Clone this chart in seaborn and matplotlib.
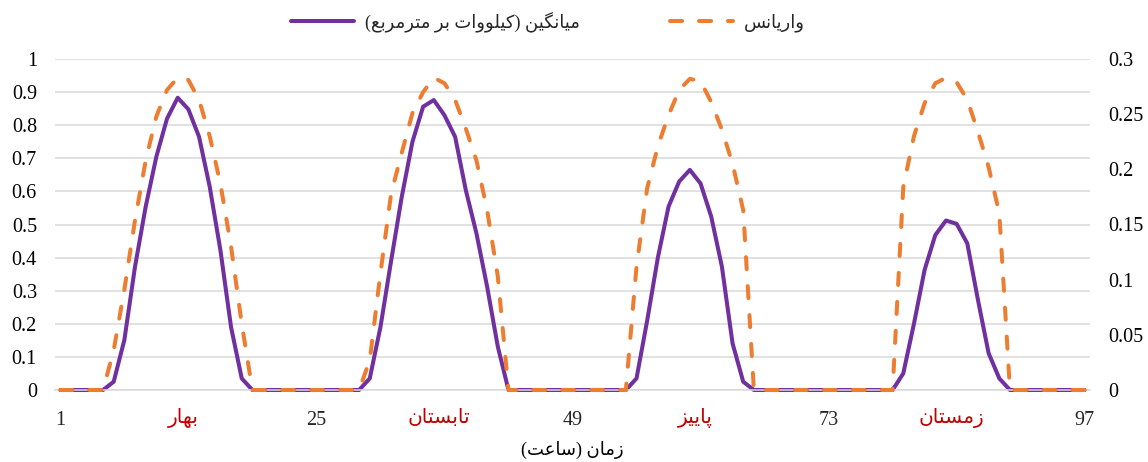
import numpy as np
import pandas as pd
import matplotlib
matplotlib.use("Agg")
import matplotlib.pyplot as plt
import matplotlib.transforms as mtransforms
import seaborn as sns

# ---------------- data ----------------
hours = list(range(1, 98))
mean_kw = [0, 0, 0, 0, 0,
           0.025, 0.151, 0.373, 0.554, 0.705, 0.82, 0.883, 0.848, 0.765, 0.614, 0.423, 0.19, 0.035,
           0, 0, 0, 0, 0, 0, 0, 0, 0, 0, 0,
           0.035, 0.19, 0.39, 0.584, 0.75, 0.856, 0.876, 0.83, 0.765, 0.604, 0.473, 0.312, 0.131,
           0, 0, 0, 0, 0, 0, 0, 0, 0, 0, 0, 0,
           0.035, 0.21, 0.40, 0.554, 0.63, 0.665, 0.624, 0.524, 0.373, 0.141, 0.025,
           0, 0, 0, 0, 0, 0, 0, 0, 0, 0, 0, 0, 0, 0,
           0.05, 0.2, 0.363, 0.468, 0.512, 0.502, 0.443, 0.272, 0.111, 0.035,
           0, 0, 0, 0, 0, 0, 0, 0]
variance = [0, 0, 0, 0, 0,
            0.036, 0.091, 0.154, 0.208, 0.248, 0.272, 0.283, 0.281, 0.263, 0.230, 0.187, 0.130, 0.060,
            0, 0, 0, 0, 0, 0, 0, 0, 0, 0, 0,
            0.027, 0.106, 0.178, 0.215, 0.251, 0.270, 0.283, 0.278, 0.263, 0.237, 0.208, 0.163, 0.103,
            0, 0, 0, 0, 0, 0, 0, 0, 0, 0, 0, 0,
            0.112, 0.183, 0.221, 0.249, 0.272, 0.282, 0.280, 0.261, 0.236, 0.205, 0.163,
            0, 0, 0, 0, 0, 0, 0, 0, 0, 0, 0, 0, 0, 0,
            0.184, 0.23, 0.26, 0.278, 0.283, 0.279, 0.263, 0.234, 0.202, 0.16,
            0, 0, 0, 0, 0, 0, 0, 0]
x_tick_values = [1, 25, 49, 73, 97]
left_ticks = [0, 0.1, 0.2, 0.3, 0.4, 0.5, 0.6, 0.7, 0.8, 0.9, 1]
left_labels = ["0", "0.1", "0.2", "0.3", "0.4", "0.5", "0.6", "0.7", "0.8", "0.9", "1"]
right_ticks = [0, 0.05, 0.1, 0.15, 0.2, 0.25, 0.3]
right_labels = ["0", "0.05", "0.1", "0.15", "0.2", "0.25", "0.3"]
seasons = ["بهار", "تابستان", "پاییز", "زمستان"]
season_pos = [12.5, 36.5, 60.5, 84.5]
mean_label = "میانگین (کیلووات بر مترمربع)"
var_label = "واریانس"
x_title = "زمان (ساعت)"

# ------------- simple Persian shaping (matplotlib has no shaping) -------------
FORMS = {
    'ا': ('\uFE8D', '\uFE8E', None, None),
    'ب': ('\uFE8F', '\uFE90', '\uFE91', '\uFE92'),
    'ت': ('\uFE95', '\uFE96', '\uFE97', '\uFE98'),
    'ر': ('\uFEAD', '\uFEAE', None, None),
    'ز': ('\uFEAF', '\uFEB0', None, None),
    'س': ('\uFEB1', '\uFEB2', '\uFEB3', '\uFEB4'),
    'ع': ('\uFEC9', '\uFECA', '\uFECB', '\uFECC'),
    'ل': ('\uFEDD', '\uFEDE', '\uFEDF', '\uFEE0'),
    'م': ('\uFEE1', '\uFEE2', '\uFEE3', '\uFEE4'),
    'ن': ('\uFEE5', '\uFEE6', '\uFEE7', '\uFEE8'),
    'ه': ('\uFEE9', '\uFEEA', '\uFEEB', '\uFEEC'),
    'و': ('\uFEED', '\uFEEE', None, None),
    '\u067E': ('\uFB56', '\uFB57', '\uFB58', '\uFB59'),
    '\u06A9': ('\uFB8E', '\uFB8F', '\uFB90', '\uFB91'),
    '\u0643': ('\uFB8E', '\uFB8F', '\uFB90', '\uFB91'),
    '\u06AF': ('\uFB92', '\uFB93', '\uFB94', '\uFB95'),
    '\u06CC': ('\uFBFC', '\uFBFD', '\uFBFE', '\uFBFF'),
    '\u064A': ('\uFBFC', '\uFBFD', '\uFBFE', '\uFBFF'),
}


def dual(c):
    return c in FORMS and FORMS[c][2] is not None


def shape(text):
    out = []
    for i, c in enumerate(text):
        if c not in FORMS:
            out.append(c)
            continue
        prev = text[i - 1] if i > 0 else ''
        nxt = text[i + 1] if i + 1 < len(text) else ''
        jp = dual(prev)
        jn = dual(c) and nxt in FORMS
        iso, fin, ini, med = FORMS[c]
        if jp and jn:
            out.append(med)
        elif jp:
            out.append(fin)
        elif jn:
            out.append(ini)
        else:
            out.append(iso)
    s = ''.join(out)[::-1]
    return s.translate(str.maketrans('()', ')('))


# ---------------- plot ----------------
sns.set_theme(style="white")
plt.rcParams['font.family'] = ['Liberation Serif', 'DejaVu Sans']

PURPLE = "#7030A0"
ORANGE = "#ED7D31"
GRID = "#D9D9D9"
RED = "#C00000"

df = pd.DataFrame({"hour": hours, "mean": mean_kw, "var": variance})

fig = plt.figure(figsize=(11.48, 4.62), dpi=100)
ax = fig.add_axes([55 / 1148, 72 / 462, 1035 / 1148, 331 / 462])
ax2 = ax.twinx()

sns.lineplot(data=df, x="hour", y="mean", ax=ax, color=PURPLE, linewidth=2.9,
             label=shape(mean_label), legend=False, clip_on=False)
sns.lineplot(data=df, x="hour", y="var", ax=ax2, color=ORANGE, linewidth=2.9,
             linestyle=(0, (3.0, 4.2)), dash_capstyle='round',
             label=shape(var_label), legend=False, clip_on=False)

ax.set_xlim(0.5, 97.5)
ax.set_ylim(0, 1)
ax2.set_ylim(0, 0.3)

ax.set_yticks(left_ticks)
ax.set_yticklabels(left_labels)
ax2.set_yticks(right_ticks)
ax2.set_yticklabels(right_labels)
ax.set_xticks(x_tick_values)
ax.set_xticklabels([str(v) for v in x_tick_values])
ax.set_xticks([0.5, 24.5, 48.5, 72.5, 96.5], minor=True)

ax.grid(axis='y', color=GRID, linewidth=1.1)
ax.set_axisbelow(True)
ax2.grid(False)

for a in (ax, ax2):
    for s in a.spines.values():
        s.set_visible(False)
ax.spines['bottom'].set_visible(True)
ax.spines['bottom'].set_color(GRID)
ax.spines['bottom'].set_linewidth(1.1)

ax.tick_params(axis='y', length=0, pad=13, labelsize=14.5, colors='black')
ax2.tick_params(axis='y', length=0, pad=13, labelsize=14.5, colors='black')
ax.tick_params(axis='x', which='major', length=0, pad=15, labelsize=14.5)
ax.tick_params(axis='x', which='minor', length=5, direction='in', color=GRID, width=1.1)
ax.set_xlabel("")
ax.set_ylabel("")
ax2.set_ylabel("")

trans = mtransforms.blended_transform_factory(ax.transData, ax.transAxes)
for name, pos in zip(seasons, season_pos):
    ax.text(pos, -0.085, shape(name), transform=trans, ha='center', va='center',
            color=RED, fontsize=14.5)

fig.text(572 / 1148, 1 - 450 / 462, shape(x_title), ha='center', va='center',
         fontsize=13, color='black')

h1, l1 = ax.get_legend_handles_labels()
h2, l2 = ax2.get_legend_handles_labels()
fig.legend(h1 + h2, l1 + l2, loc='center', bbox_to_anchor=(548 / 1148, 1 - 22 / 462),
           ncol=2, frameon=False, fontsize=13, handlelength=3.5, handletextpad=0.6,
           columnspacing=5.0)

fig.savefig("out.png", dpi=100)
